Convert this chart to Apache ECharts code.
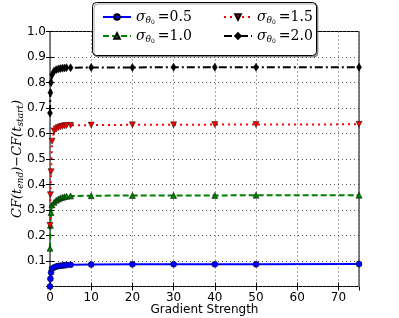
<!DOCTYPE html>
<html><head><meta charset="utf-8">
<script src="https://cdn.jsdelivr.net/npm/echarts@6/dist/echarts.min.js"></script>
<style>html,body{margin:0;padding:0;background:#fff}#c{width:399px;height:318px}</style>
</head><body><div id="c"></div>
<script>
var xValues = [0, 0.1, 0.25, 0.5, 1, 1.5, 2, 2.5, 3, 3.5, 4, 5, 10, 20, 30, 40, 50, 75];
var s05 = [0.0, 0.03, 0.055, 0.07, 0.075, 0.078, 0.08, 0.081, 0.082, 0.083, 0.084, 0.085, 0.086, 0.087, 0.087, 0.087, 0.087, 0.088];
var s10 = [0.15, 0.24, 0.29, 0.32, 0.33, 0.338, 0.343, 0.347, 0.35, 0.352, 0.354, 0.355, 0.356, 0.357, 0.357, 0.357, 0.358, 0.358];
var s15 = [0.24, 0.36, 0.45, 0.57, 0.61, 0.618, 0.623, 0.626, 0.628, 0.63, 0.631, 0.632, 0.633, 0.634, 0.634, 0.635, 0.635, 0.636];
var s20 = [0.68, 0.76, 0.80, 0.83, 0.845, 0.85, 0.853, 0.855, 0.856, 0.857, 0.858, 0.858, 0.859, 0.859, 0.86, 0.86, 0.86, 0.86];
var sigmaLabels = ['0.5', '1.0', '1.5', '2.0'];
var xTitle = 'Gradient Strength';

function pairs(ys){ return xValues.map(function(x,i){ return [x, ys[i]]; }); }
var chart = echarts.init(document.getElementById('c'));
var serif = 'DejaVu Serif';
var rich = {
  sg:{fontFamily:serif, fontStyle:'italic', fontSize:14, color:'#000'},
  th:{fontFamily:serif, fontStyle:'italic', fontSize:9, color:'#000', verticalAlign:'bottom', padding:[6,0,0,0]},
  z:{fontFamily:serif, fontSize:6, color:'#000', verticalAlign:'bottom', padding:[10,0,0,0]},
  eq:{fontFamily:serif, fontSize:14, color:'#000', padding:[0,0,0,3]}
};
function legendFmt(name){ return '{sg|σ}{th|θ}{z|0}{eq|=' + name + '}'; }
var mk = function(name, data, color, symbol, lineType, size){
  return {name:name, type:'line', data:pairs(data), symbol:symbol, symbolSize:size,
    lineStyle:{color:color, width:2, type:lineType}, itemStyle:{color:color, borderColor:'#000', borderWidth:0.5},
    animation:false, z:3};
};
var yRich = {
  m:{fontFamily:serif, fontStyle:'italic', fontSize:13, color:'#000'},
  s:{fontFamily:serif, fontStyle:'italic', fontSize:9, color:'#000', verticalAlign:'bottom', padding:[6,0,0,0]}
};
chart.setOption({
  animation:false,
  grid:{left:50, right:40, top:31.5, bottom:31.5, show:true, borderColor:'#000', borderWidth:1, backgroundColor:'transparent', containLabel:false, outerBoundsMode:'none'},
  xAxis:[{type:'value', min:0, max:75, interval:10,
    axisLine:{show:false}, axisTick:{inside:true, length:4, lineStyle:{color:'#000'}},
    axisLabel:{color:'#000', fontFamily:'DejaVu Sans', fontSize:12, margin:5, showMaxLabel:false},
    splitLine:{show:true, lineStyle:{color:'#555', type:[1,3], width:1}},
    name:xTitle, nameLocation:'middle', nameGap:17, nameMoveOverlap:false, nameTextStyle:{color:'#000', fontFamily:'DejaVu Sans', fontSize:12}},
    {type:'value', min:0, max:75, interval:10, position:'top', axisLine:{show:false}, axisTick:{inside:true, length:4, lineStyle:{color:'#000'}}, axisLabel:{show:false}, splitLine:{show:false}}],
  yAxis:[{type:'value', min:0, max:1, interval:0.1,
    axisLine:{show:false}, axisTick:{inside:true, length:4, lineStyle:{color:'#000'}},
    axisLabel:{color:'#000', fontFamily:'DejaVu Sans', fontSize:12, margin:4, formatter:function(v){ return v===0 ? '' : v.toFixed(1); }},
    splitLine:{show:true, lineStyle:{color:'#555', type:[1,3], width:1}},
    name:'{m|CF(t}{s|end}{m|)−CF(t}{s|start}{m|)}', nameLocation:'middle', nameGap:25, nameRotate:90, nameMoveOverlap:false,
    nameTextStyle:{rich:yRich}},
    {type:'value', min:0, max:1, interval:0.1, position:'right', axisLine:{show:false}, axisTick:{inside:true, length:4, lineStyle:{color:'#000'}}, axisLabel:{show:false}, splitLine:{show:false}}],
  graphic:[{type:'rect', shape:{x:92.5, y:2.5, width:224, height:53, r:4}, style:{fill:'#fff', stroke:'#000', lineWidth:1, shadowColor:'rgba(0,0,0,0.35)', shadowOffsetX:1.5, shadowOffsetY:1.5}, z:50}],
  legend:[
    {orient:'vertical', left:97, top:5, itemGap:4, itemWidth:28, itemHeight:7, z:60, data:[sigmaLabels[0], sigmaLabels[1]], formatter:legendFmt, textStyle:{rich:rich}},
    {orient:'vertical', left:218, top:5, itemGap:4, itemWidth:28, itemHeight:7, z:60, data:[sigmaLabels[2], sigmaLabels[3]], formatter:legendFmt, textStyle:{rich:rich}}
  ],
  series:[
    mk(sigmaLabels[0], s05, '#0000ff', 'circle', 'solid', 6),
    mk(sigmaLabels[1], s10, '#008000', 'triangle', [6,3], 6),
    mk(sigmaLabels[2], s15, '#ff0000', 'path://M0,0 L10,0 L5,9 Z', [2,4], 6),
    mk(sigmaLabels[3], s20, '#000000', 'path://M3,0 L6,5 L3,10 L0,5 Z', [8,3,2,3], [5,8])
  ]
});
</script></body></html>
